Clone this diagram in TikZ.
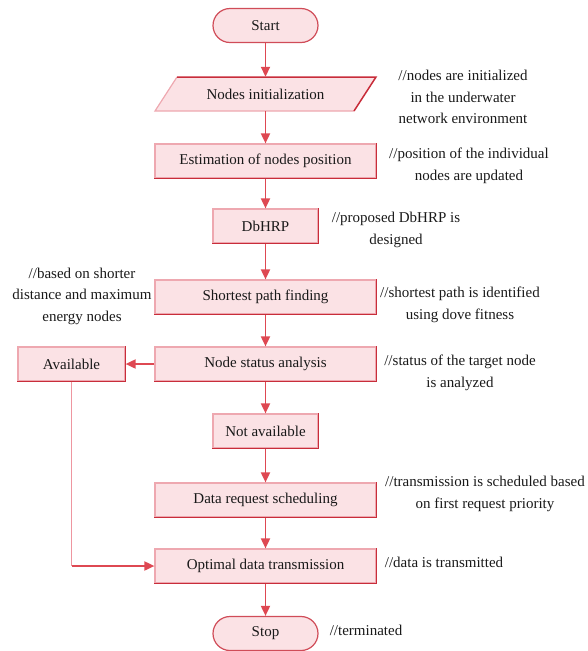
\documentclass[tikz,border=0pt]{standalone}
\usepackage{fontspec}
\setmainfont{Liberation Serif}
\usetikzlibrary{arrows.meta,calc}
\definecolor{boxfill}{RGB}{251,226,229}
\definecolor{boxlight}{RGB}{238,168,176}
\definecolor{boxdark}{RGB}{200,45,58}
\definecolor{arrowc}{RGB}{222,72,82}
\definecolor{linklight}{RGB}{238,150,160}
\definecolor{txt}{RGB}{25,25,25}
\begin{document}
\begin{tikzpicture}[x=1pt,y=-1pt,
 every node/.style={font=\fontsize{15}{21.5}\selectfont, text=txt},
 procbox/.style={draw=boxlight, fill=boxfill, line width=1.2pt, minimum height=34pt, inner sep=0pt},
 widebox/.style={procbox, minimum width=221pt},
 narrowbox/.style={procbox, minimum width=105pt},
 termbox/.style={draw=boxdark!85, fill=boxfill, line width=1.2pt, rounded corners=17pt, minimum width=105pt, minimum height=34pt, inner sep=0pt},
 note/.style={align=center, inner sep=0pt},
 flow/.style={draw=arrowc, line width=1.8pt, -{Triangle[length=10pt,width=9pt]}},
]
\useasboundingbox (0,0) rectangle (588,651);

% terminals and boxes
\node[termbox] (start) at (265.5,25.5) {Start};
\fill[boxfill] (155,111) -- (354,111) -- (376,77) -- (177,77) -- cycle;
\draw[boxlight, line width=1.2pt] (354,111) -- (155,111) -- (177,77);
\draw[boxdark, line width=1.5pt] (177,77) -- (376,77) -- (354,111);
\node[minimum width=221pt, minimum height=34pt, inner sep=0pt] (init) at (265.5,94) {Nodes initialization};
\node[widebox] (est) at (265.5,161) {Estimation of nodes position};
\node[narrowbox] (dbhrp) at (265.5,226) {DbHRP};
\node[widebox] (spf) at (265.5,297) {Shortest path finding};
\node[widebox] (nsa) at (265.5,364) {Node status analysis};
\node[procbox, minimum width=107pt] (avail) at (71.5,364) {Available};
\node[narrowbox] (notav) at (265.5,431) {Not available};
\node[widebox] (drs) at (265.5,500) {Data request scheduling};
\node[widebox] (odt) at (265.5,566) {Optimal data transmission};
\node[termbox] (stop) at (265.5,633.5) {Stop};

\foreach \n in {est,dbhrp,spf,nsa,avail,notav,drs,odt}
  \draw[boxdark, line width=1.5pt] (\n.north east) -- (\n.south east) -- (\n.south west);

% notes
\node[note] (n1) at (463,97) {//nodes are initialized\\in the underwater\\network environment};
\node[note] (n2) at (469,166) {//position of the individual\\nodes are updated};
\node[note] (n3) at (396,230) {//proposed DbHRP is\\designed};
\node[note] (n4) at (82,296) {//based on shorter\\distance and maximum\\energy nodes};
\node[note] (n5) at (460,305) {//shortest path is identified\\using dove fitness};
\node[note] (n6) at (460,373) {//status of the target node\\is analyzed};
\node[note] (n7) at (485,494) {//transmission is scheduled based\\on first request priority};
\node[note] (n8) at (444,562) {//data is transmitted};
\node[note] (n9) at (366,630) {//terminated};

% connectors
\draw[flow] (start) -- (init);
\draw[flow] (init) -- (est);
\draw[flow] (est) -- (dbhrp);
\draw[flow] (dbhrp) -- (spf);
\draw[flow] (spf) -- (nsa);
\draw[flow] (nsa) -- (avail);
\draw[flow] (nsa) -- (notav);
\draw[flow] (notav) -- (drs);
\draw[flow] (drs) -- (odt);
\draw[flow] (odt) -- (stop);
\coordinate (corner) at (avail.south |- odt.west);
\draw[linklight, line width=1.4pt] (avail) -- (corner);
\draw[flow] (corner) -- (odt.west);
\end{tikzpicture}
\end{document}
